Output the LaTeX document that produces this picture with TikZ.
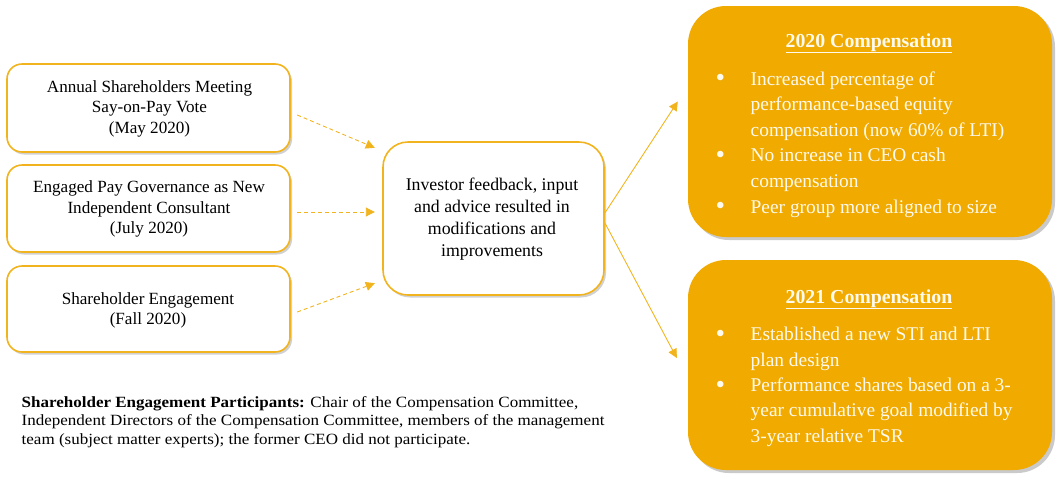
\documentclass[tikz,border=0pt]{standalone}
\usepackage{fontspec}
\usepackage{graphicx}
\setmainfont{Liberation Serif}
\newfontfamily\notefont{Liberation Serif}[FakeStretch=1.09]
\usetikzlibrary{shadows,arrows.meta,calc}
\definecolor{gold}{RGB}{240,170,0}
\definecolor{goldline}{RGB}{242,180,30}
\definecolor{cream}{RGB}{255,250,238}
\tikzset{
  leftbox/.style={draw=goldline, line width=1.6pt, fill=white, rounded corners=15pt,
    drop shadow={shadow xshift=2pt, shadow yshift=-2.5pt, opacity=0.3, fill=black!60}},
  centerbox/.style={draw=goldline, line width=1.6pt, fill=white, rounded corners=25pt,
    drop shadow={shadow xshift=2pt, shadow yshift=-2.5pt, opacity=0.3, fill=black!60}},
  rightbox/.style={draw=none, fill=gold, rounded corners=38pt,
    drop shadow={shadow xshift=3pt, shadow yshift=-3pt, opacity=0.35, fill=black!60}},
  boxtext/.style={anchor=base, inner sep=0pt, font=\fontsize{17.1}{20.4}\selectfont},
  ctext/.style={anchor=base, inner sep=0pt, font=\fontsize{17.8}{22}\selectfont},
  rtitle/.style={anchor=base, font=\fontsize{19.8}{22}\selectfont\bfseries, text=cream, inner sep=0pt},
  ritems/.style={anchor=base west, inner sep=0pt, text=cream},
  dasharrow/.style={draw=goldline, line width=0.9pt, dash pattern=on 4pt off 3pt, -{Triangle[length=9pt,width=9pt]}},
  solidarrow/.style={draw=goldline, line width=0.9pt, -{Triangle[length=9pt,width=9pt]}},
}
\newcommand{\ul}[1]{\underline{#1}}
\newcommand{\bul}{\raisebox{-1.6pt}{\scalebox{1.4}{\textbullet}}}
\begin{document}
\begin{tikzpicture}[x=1pt,y=-1pt]
\useasboundingbox (0,0) rectangle (1064,480);
% left boxes
\path[leftbox] (7,64) rectangle (290,152);
\node[minimum width=283pt, minimum height=88pt, inner sep=0pt] (b1) at (148.5,108) {};
\node[boxtext] (t1) at (149.5,92.3) {\begin{tabular}[t]{@{}c@{}}Annual Shareholders Meeting\\Say-on-Pay Vote\\(May 2020)\end{tabular}};
\path[leftbox] (7,165) rectangle (290,252);
\node[minimum width=283pt, minimum height=87pt, inner sep=0pt] (b2) at (148.5,208.5) {};
\node[boxtext] (t2) at (149,192.7) {\begin{tabular}[t]{@{}c@{}}Engaged Pay Governance as New\\Independent Consultant\\(July 2020)\end{tabular}};
\path[leftbox] (7,266) rectangle (290,352);
\node[minimum width=283pt, minimum height=86pt, inner sep=0pt] (b3) at (148.5,309) {};
\node[boxtext] (t3) at (148,304.3) {\begin{tabular}[t]{@{}c@{}}Shareholder Engagement\\(Fall 2020)\end{tabular}};
% center box
\path[centerbox] (383,142) rectangle (604,295);
\node[minimum width=221pt, minimum height=153pt, inner sep=0pt] (c) at (493.5,218.5) {};
\node[ctext] (ct) at (492,190) {\begin{tabular}[t]{@{}c@{}}Investor feedback, input\\and advice resulted in\\modifications and\\improvements\end{tabular}};
% right boxes
\path[rightbox] (688,6) rectangle (1052,237);
\node[minimum width=364pt, minimum height=231pt, inner sep=0pt] (r1) at (870,121.5) {};
\node[rtitle] (r1t) at (869,47) {\ul{2020 Compensation}};
\node[ritems, font=\fontsize{19.4}{25.6}\selectfont] (r1i) at (715.5,85) {\begin{tabular}[t]{@{}p{35pt}@{}l@{}}
\bul & Increased percentage of\\
 & performance-based equity\\
 & compensation (now 60\% of LTI)\\
\bul & No increase in CEO cash\\
 & compensation\\
\bul & Peer group more aligned to size
\end{tabular}};
\path[rightbox] (688,260) rectangle (1052,470);
\node[minimum width=364pt, minimum height=210pt, inner sep=0pt] (r2) at (870,365) {};
\node[rtitle] (r2t) at (869,303) {\ul{2021 Compensation}};
\node[ritems, font=\fontsize{19.4}{25.35}\selectfont] (r2i) at (715.5,340.7) {\begin{tabular}[t]{@{}p{35pt}@{}l@{}}
\bul & Established a new STI and LTI\\
 & plan design\\
\bul & Performance shares based on a 3-\\
 & year cumulative goal modified by\\
 & 3-year relative TSR
\end{tabular}};
% bottom note
\node[anchor=base west, inner sep=0pt, font=\notefont\fontsize{15.6}{18.5}\selectfont] (note) at (21.5,407.3)
 {\begin{tabular}[t]{@{}l@{}}\textbf{Shareholder Engagement Participants:} Chair of the Compensation Committee,\\
 Independent Directors of the Compensation Committee, members of the management\\
 team (subject matter experts); the former CEO did not participate.\end{tabular}};
% arrows
\draw[dasharrow] ($(b1.east)+(7,7)$) -- ($(c.north west)+(-8,6)$);
\draw[dasharrow] ($(b2.east)+(7,3.5)$) -- ($(c.west)+(-8,-6.5)$);
\draw[dasharrow] ($(b3.east)+(7,3)$) -- ($(c.south west)+(-8,-12)$);
\draw[solidarrow] ($(c.east)+(1,-6)$) -- ($(r1.west)+(-10,-20)$);
\draw[solidarrow] ($(c.east)+(1,5)$) -- ($(r2.west)+(-11,-7)$);
\end{tikzpicture}
\end{document}
